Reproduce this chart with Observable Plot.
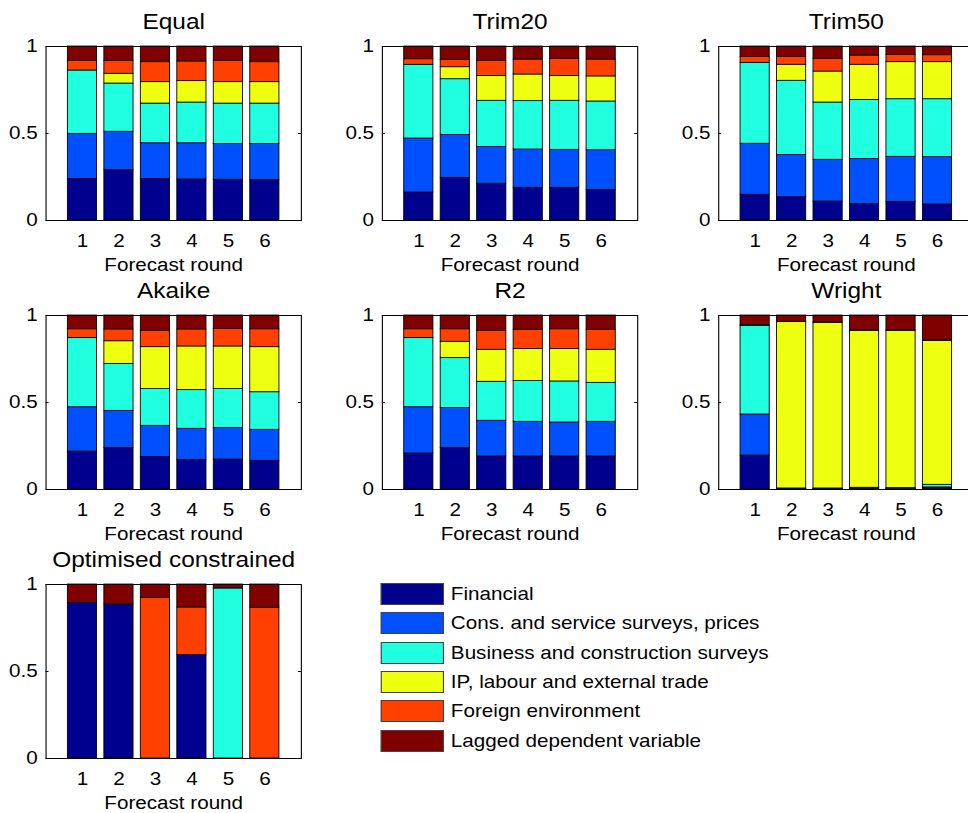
<!DOCTYPE html>
<html>
<head>
<meta charset="utf-8">
<script src="https://cdn.jsdelivr.net/npm/d3@7"></script>
<script src="https://cdn.jsdelivr.net/npm/@observablehq/plot@0.6"></script>
<style>
  html, body { margin: 0; padding: 0; background: #fff; width: 968px; height: 813px; overflow: hidden; }
  #fig { position: absolute; left: 0; top: 0; width: 872px; height: 813px; transform: scaleX(1.11); transform-origin: 0 0; font-family: "Liberation Sans", Arial, Helvetica, sans-serif; }
  .panel { position: absolute; width: 300px; }
  .panel svg { overflow: visible; max-width: none; }
  #legend { position: absolute; left: 343.2px; top: 583.3px; font-size: 18.6px; color: #000; }
  .lrow { display: flex; align-items: center; height: 21.7px; margin-bottom: 7.6px; white-space: nowrap; }
  .lsw { width: 55px; height: 20px; border: 1px solid #444; margin-right: 6px; flex: none; }
</style>
</head>
<body>
<div id="fig"></div>
<script>
// ---- data ----
const categories = [
  "Financial",
  "Cons. and service surveys, prices",
  "Business and construction surveys",
  "IP, labour and external trade",
  "Foreign environment",
  "Lagged dependent variable"
];
const colors = ["#00008f", "#0050ff", "#20ffdf", "#efff10", "#ff4000", "#800000"];
const rounds = [1, 2, 3, 4, 5, 6];
const yTicks = [0, 0.5, 1];
const titles = ["Equal", "Trim20", "Trim50", "Akaike", "R2", "Wright", "Optimised constrained"];
const xLabel = "Forecast round";

// rows = categories (in order above), columns = forecast rounds 1..6
const equal = [
  [0.239, 0.289, 0.239, 0.236, 0.234, 0.232],
  [0.259, 0.221, 0.205, 0.208, 0.205, 0.207],
  [0.364, 0.277, 0.228, 0.234, 0.233, 0.233],
  [0.000, 0.056, 0.123, 0.123, 0.123, 0.123],
  [0.056, 0.073, 0.115, 0.113, 0.123, 0.115],
  [0.082, 0.084, 0.090, 0.086, 0.082, 0.090]
];
const trim20 = [
  [0.161, 0.245, 0.211, 0.188, 0.188, 0.176],
  [0.310, 0.247, 0.212, 0.220, 0.218, 0.228],
  [0.424, 0.320, 0.265, 0.278, 0.282, 0.280],
  [0.000, 0.069, 0.143, 0.153, 0.143, 0.144],
  [0.032, 0.042, 0.087, 0.086, 0.098, 0.097],
  [0.073, 0.077, 0.082, 0.075, 0.071, 0.075]
];
const trim50 = [
  [0.148, 0.134, 0.109, 0.094, 0.107, 0.092],
  [0.293, 0.243, 0.240, 0.260, 0.259, 0.272],
  [0.465, 0.426, 0.329, 0.339, 0.331, 0.333],
  [0.000, 0.092, 0.178, 0.202, 0.213, 0.213],
  [0.033, 0.044, 0.073, 0.053, 0.042, 0.040],
  [0.061, 0.061, 0.071, 0.052, 0.048, 0.050]
];
const akaike = [
  [0.218, 0.239, 0.186, 0.170, 0.172, 0.165],
  [0.255, 0.213, 0.180, 0.179, 0.182, 0.178],
  [0.397, 0.270, 0.211, 0.222, 0.223, 0.216],
  [0.000, 0.130, 0.241, 0.251, 0.245, 0.259],
  [0.051, 0.068, 0.094, 0.098, 0.101, 0.103],
  [0.079, 0.080, 0.088, 0.080, 0.077, 0.079]
];
const r2 = [
  [0.207, 0.239, 0.190, 0.190, 0.190, 0.190],
  [0.266, 0.230, 0.205, 0.199, 0.195, 0.199],
  [0.397, 0.286, 0.224, 0.234, 0.236, 0.224],
  [0.000, 0.094, 0.184, 0.184, 0.186, 0.190],
  [0.051, 0.072, 0.109, 0.111, 0.114, 0.115],
  [0.079, 0.079, 0.088, 0.082, 0.079, 0.082]
];
const wright = [
  [0.195, 0.002, 0.002, 0.003, 0.002, 0.008],
  [0.236, 0.002, 0.002, 0.002, 0.002, 0.004],
  [0.508, 0.002, 0.002, 0.005, 0.004, 0.015],
  [0.000, 0.956, 0.952, 0.902, 0.904, 0.827],
  [0.007, 0.002, 0.002, 0.002, 0.002, 0.002],
  [0.054, 0.036, 0.040, 0.086, 0.086, 0.144]
];
const optimised = [
  [0.893, 0.885, 0.000, 0.594, 0.000, 0.000],
  [0.000, 0.000, 0.000, 0.000, 0.000, 0.000],
  [0.000, 0.000, 0.000, 0.000, 0.977, 0.000],
  [0.000, 0.000, 0.000, 0.000, 0.000, 0.000],
  [0.000, 0.000, 0.923, 0.274, 0.000, 0.866],
  [0.107, 0.115, 0.077, 0.132, 0.023, 0.134]
];
const methods = [equal, trim20, trim50, akaike, r2, wright, optimised];

// ---- layout (design units; the figure is stretched horizontally by 1.11) ----
const colLeft = [0.5, 304.4, 607.1];
const rowTop = [0, 269, 538];

function stackRows(m) {
  const rows = [];
  rounds.forEach((r, i) => {
    let acc = 0;
    categories.forEach((c, k) => {
      const v = m[k][i];
      if (v > 0) rows.push({round: r, cat: c, y1: acc, y2: acc + v});
      acc += v;
    });
  });
  return rows;
}

const fig = document.getElementById("fig");
methods.forEach((m, idx) => {
  const rows = stackRows(m);
  const chart = Plot.plot({
    width: 300,
    height: 276,
    marginTop: 46,
    marginBottom: 56,
    marginLeft: 40,
    marginRight: 30,
    style: {background: "transparent", fontFamily: '"Liberation Sans", Arial, Helvetica, sans-serif', fontSize: "18.6px", color: "#000", overflow: "visible"},
    x: {domain: [0, 7], axis: null},
    y: {domain: [0, 1], axis: null},
    color: {domain: categories, range: colors},
    marks: [
      Plot.rectY(rows, {x1: d => d.round - 0.4, x2: d => d.round + 0.4, y1: "y1", y2: "y2", fill: "cat", stroke: "#000", strokeWidth: 0.8}),
      Plot.ruleY(yTicks, {x1: 0, x2: 0.08, stroke: "#000"}),
      Plot.ruleY(yTicks, {x1: 7, x2: 6.92, stroke: "#000"}),
      Plot.frame({stroke: "#000", strokeWidth: 1}),
      Plot.axisY({ticks: yTicks, tickSize: 0, tickPadding: 7.5, tickFormat: d => String(d), fontSize: 18.6}),
      Plot.axisX({ticks: rounds, tickSize: 0, tickPadding: 13, tickFormat: d => String(d), fontSize: 18.6, label: null}),
      Plot.text([xLabel], {text: d => d, frameAnchor: "bottom", dy: 50, lineAnchor: "bottom", fontSize: 18.6}),
      Plot.text([titles[idx]], {text: d => d, frameAnchor: "top", dy: -18, lineAnchor: "bottom", fontSize: 22})
    ]
  });
  const div = document.createElement("div");
  div.className = "panel";
  div.style.left = colLeft[idx % 3] + "px";
  div.style.top = rowTop[Math.floor(idx / 3)] + "px";
  div.appendChild(chart);
  fig.appendChild(div);
});

// legend
const legend = document.createElement("div");
legend.id = "legend";
categories.forEach((c, k) => {
  const row = document.createElement("div");
  row.className = "lrow";
  const sw = document.createElement("div");
  sw.className = "lsw";
  sw.style.background = colors[k];
  const t = document.createElement("span");
  t.textContent = c;
  row.appendChild(sw);
  row.appendChild(t);
  legend.appendChild(row);
});
fig.appendChild(legend);
</script>
</body>
</html>
